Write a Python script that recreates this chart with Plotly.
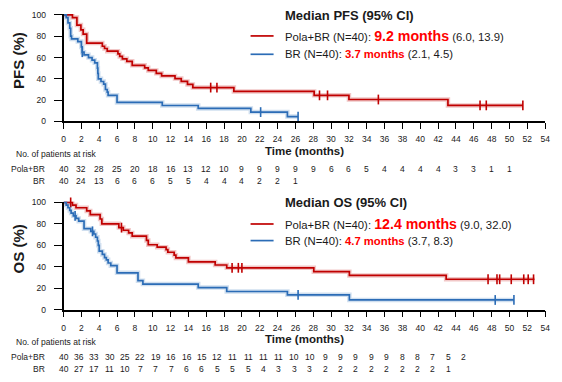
import numpy as np
import plotly.graph_objects as go

W, H = 562, 382

# ---------------- data ----------------
# PFS, Pola+BR: step times (months) and survival (%) after each step
pfs_pola_t = [0, 1.0, 1.5, 1.95, 2.2, 2.6, 4.35, 4.6, 4.9, 6.1, 6.3, 6.6, 7.1, 7.7, 9.1, 9.5,
              10.4, 11.0, 12.5, 13.2, 13.9, 14.5, 19.1, 28.1, 32.0, 43.1, 51.5]
pfs_pola_s = [100, 97.5, 90.5, 86, 82, 73.6, 70.6, 68.5, 66, 63.5, 61, 58.8, 56.4, 52.7, 50.3, 47.9,
              45.2, 42.7, 40.3, 37.6, 34.8, 31.8, 28.2, 24.5, 20.6, 15.1, 15.1]
pfs_pola_cens = [16.5, 17.2, 28.7, 29.6, 35.3, 46.7, 47.4, 51.5]

# PFS, BR
pfs_br_t = [0, 0.3, 0.5, 0.7, 0.8, 0.9, 1.6, 2.0, 2.1, 2.3, 2.8, 3.2, 3.5, 3.8, 3.85, 3.9, 4.2,
            4.5, 4.7, 4.9, 5.0, 6.0, 11.07, 15.1, 21.0, 25.1, 26.3]
pfs_br_s = [100, 97.5, 92.5, 87.5, 80, 77.5, 75, 70, 65, 62.5, 60, 57.5, 55, 50, 45, 40, 37.5,
            35, 30, 27.5, 24.5, 17.9, 15, 12.2, 8.8, 4.6, 4.6]
pfs_br_cens = [2.1, 22.1, 26.3]

# OS, Pola+BR
os_pola_t = [0, 1.0, 1.4, 2.6, 3.0, 4.1, 4.3, 6.2, 6.7, 7.3, 7.7, 9.3, 9.5, 10.5, 11.5, 11.7,
             12.4, 12.6, 14.0, 17.0, 18.3, 28.06, 32.05, 42.9, 52.8]
os_pola_s = [100, 97.5, 95, 92, 88.5, 84.5, 80, 76.5, 74, 71.5, 68.5, 64.5, 60.5, 58.2, 56, 53.5,
             50.8, 48.2, 44.5, 41.6, 39, 35.4, 31.9, 28.3, 28.3]
os_pola_cens = [0.8, 6.5, 18.9, 19.6, 20.0, 47.6, 48.6, 48.9, 50.2, 51.6, 52.1, 52.7]

# OS, BR
os_br_t = [0, 0.3, 0.5, 0.7, 0.85, 1.1, 1.4, 1.7, 2.3, 3.06, 3.4, 3.6, 3.8, 3.9, 4.0, 4.35, 4.6,
           4.8, 5.0, 5.3, 6.0, 8.35, 8.9, 15.1, 18.3, 25.1, 32.05, 50.5]
os_br_s = [100, 97.5, 95, 92.5, 90, 87.5, 85, 82.5, 75.5, 73, 70.5, 67.5, 64, 60, 54.5, 51.5, 48.5,
           46.4, 43.5, 41, 34.3, 27, 23.8, 20.6, 16.9, 13.8, 9.0, 9.0]
os_br_cens = [1.3, 3.25, 26.3, 48.4, 50.5]

# numbers at risk
pfs_risk_pola = [40, 32, 28, 25, 20, 18, 16, 13, 12, 10, 9, 9, 9, 9, 9, 6, 6, 5, 4, 4, 4, 4, 3, 3, 1, 1]
pfs_risk_br = [40, 24, 13, 6, 6, 6, 5, 5, 4, 4, 4, 2, 2, 1]
os_risk_pola = [40, 36, 33, 30, 25, 22, 19, 16, 16, 15, 12, 11, 11, 11, 11, 10, 10, 9, 9, 9, 9, 9, 8, 8, 7, 5, 2]
os_risk_br = [40, 27, 17, 11, 10, 7, 7, 7, 6, 6, 5, 5, 5, 4, 3, 3, 3, 2, 2, 2, 2, 2, 2, 2, 2, 1]

x_ticks = list(range(0, 56, 2))
y_ticks = [0, 20, 40, 60, 80, 100]

# ---------------- style ----------------
RED = "#C00000"
BLUE = "#2B6CB6"
RED_HALO = "rgba(192,0,0,0.22)"
BLUE_HALO = "rgba(43,108,182,0.22)"
HILITE = "#FF0000"
TXT = "#1a1a1a"
FONT = "Liberation Sans, Arial, sans-serif"


def px(x):
    return x / W


def py(y):
    return 1 - y / H


def step_val(t_arr, s_arr, t):
    idx = int(np.searchsorted(np.asarray(t_arr), t, side="right")) - 1
    return s_arr[max(idx, 0)]


fig = go.Figure()


def add_curve(t, s, cens, color, halo, xa, ya):
    fig.add_trace(go.Scatter(x=t, y=s, mode="lines", line=dict(shape="hv", color=halo, width=4.5),
                             xaxis=xa, yaxis=ya, hoverinfo="skip", showlegend=False))
    fig.add_trace(go.Scatter(x=t, y=s, mode="lines", line=dict(shape="hv", color=color, width=1.7),
                             xaxis=xa, yaxis=ya, showlegend=False))
    cy = [step_val(t, s, c) for c in cens]
    fig.add_trace(go.Scatter(x=cens, y=cy, mode="markers",
                             marker=dict(symbol="line-ns-open", size=7, color=color,
                                         line=dict(color=color, width=1.6)),
                             xaxis=xa, yaxis=ya, showlegend=False, cliponaxis=False))


add_curve(pfs_pola_t, pfs_pola_s, pfs_pola_cens, RED, RED_HALO, "x", "y")
add_curve(pfs_br_t, pfs_br_s, pfs_br_cens, BLUE, BLUE_HALO, "x", "y")
add_curve(os_pola_t, os_pola_s, os_pola_cens, RED, RED_HALO, "x2", "y2")
add_curve(os_br_t, os_br_s, os_br_cens, BLUE, BLUE_HALO, "x2", "y2")

X0, X1 = 62.3, 550.0
TOP = dict(y100=10.3, y0=120.3)
BOT = dict(y100=202.3, y0=313.0)

axis_common = dict(showline=True, linecolor="black", linewidth=1.6, ticks="outside",
                   tickwidth=1.4, tickcolor="black", showgrid=False, zeroline=False,
                   ticklabeloverflow="allow",
                   tickfont=dict(family=FONT, size=8.5, color=TXT))
xax = dict(ticklen=6, ticklabelstandoff=3, **axis_common)
yax = dict(ticklen=8, ticklabelstandoff=6, **axis_common)

fig.update_layout(
    width=W, height=H, margin=dict(l=0, r=0, t=0, b=0),
    paper_bgcolor="white", plot_bgcolor="white", showlegend=False,
    xaxis=dict(domain=[px(X0), px(X1)], range=[0, 54], tickvals=x_ticks, anchor="y", **xax),
    yaxis=dict(domain=[py(TOP["y0"]), py(TOP["y100"])], range=[0, 100.8], tickvals=y_ticks,
               anchor="x", **yax),
    xaxis2=dict(domain=[px(X0), px(X1)], range=[0, 54], tickvals=x_ticks, anchor="y2", **xax),
    yaxis2=dict(domain=[py(BOT["y0"]), py(BOT["y100"])], range=[0, 100.8], tickvals=y_ticks,
                anchor="x2", **yax),
)

ann = []
shapes = []


def legend_block(title, y_title, y_pola, y_br, pola_med, pola_ci, br_med, br_ci):
    ann.append(dict(text="<b>%s</b>" % title, x=px(285), y=py(y_title), xref="paper", yref="paper",
                    xanchor="left", yanchor="middle", showarrow=False,
                    font=dict(family=FONT, size=13, color=TXT)))
    for yy, col, lab, med, ci in [(y_pola, RED, "Pola+BR (N=40): ", pola_med, pola_ci),
                                  (y_br, BLUE, "BR (N=40): ", br_med, br_ci)]:
        shapes.append(dict(type="line", xref="paper", yref="paper", x0=px(251.7), x1=px(275),
                           y0=py(yy), y1=py(yy), line=dict(color=col, width=1.7)))
        big = 14.2 if lab.startswith("Pola") else 11.3
        txt = ("%s<span style='color:%s;font-size:%spx'><b>%s</b></span> %s"
               % (lab, HILITE, big, med, ci))
        ann.append(dict(text=txt, x=px(285), y=py(yy), xref="paper", yref="paper",
                        xanchor="left", yanchor="middle", showarrow=False,
                        font=dict(family=FONT, size=11.3, color=TXT)))


legend_block("Median PFS (95% CI)", 12, 32.7, 51.5, "9.2 months", "(6.0, 13.9)", "3.7 months", "(2.1, 4.5)")
legend_block("Median OS (95% CI)", 203.5, 225.3, 242.3, "12.4 months", "(9.0, 32.0)", "4.7 months", "(3.7, 8.3)")

# y-axis titles
for txt, yc in [("PFS (%)", 58), ("OS (%)", 251)]:
    ann.append(dict(text="<b>%s</b>" % txt, x=px(16.5), y=py(yc), xref="paper", yref="paper",
                    textangle=-90, xanchor="center", yanchor="middle", showarrow=False,
                    font=dict(family=FONT, size=15, color=TXT)))

OS_RISK_STEP = 1.725  # months between risk-table columns in the OS panel


def risk_block(y_axis0, xref, pola, br, step):
    ann.append(dict(text="<b>Time (months)</b>", x=px((X0 + X1) / 2), y=py(y_axis0 + 30.5),
                    xref="paper", yref="paper", xanchor="center", yanchor="middle", showarrow=False,
                    font=dict(family=FONT, size=11.5, color=TXT)))
    ann.append(dict(text="No. of patients at risk", x=px(12.5), y=py(y_axis0 + 33),
                    xref="paper", yref="paper", xanchor="left", yanchor="middle", showarrow=False,
                    font=dict(family=FONT, size=8.5, color=TXT)))
    for lab, vals, dy in [("Pola+BR", pola, 48.3), ("BR", br, 60.8)]:
        ann.append(dict(text=lab, x=px(45.8), y=py(y_axis0 + dy), xref="paper", yref="paper",
                        xanchor="right", yanchor="middle", showarrow=False,
                        font=dict(family=FONT, size=8.5, color=TXT)))
        for i, v in enumerate(vals):
            ann.append(dict(text=str(v), x=i * step, y=py(y_axis0 + dy), xref=xref, yref="paper",
                            xanchor="center", yanchor="middle", showarrow=False,
                            font=dict(family=FONT, size=8.5, color=TXT)))


risk_block(TOP["y0"], "x", pfs_risk_pola, pfs_risk_br, 2)
risk_block(BOT["y0"], "x2", os_risk_pola, os_risk_br, OS_RISK_STEP)

fig.update_layout(annotations=ann, shapes=shapes)
fig.write_html("out.html", config={"displayModeBar": False},
               post_script="document.body.style.margin='0';document.body.style.overflow='hidden';")
